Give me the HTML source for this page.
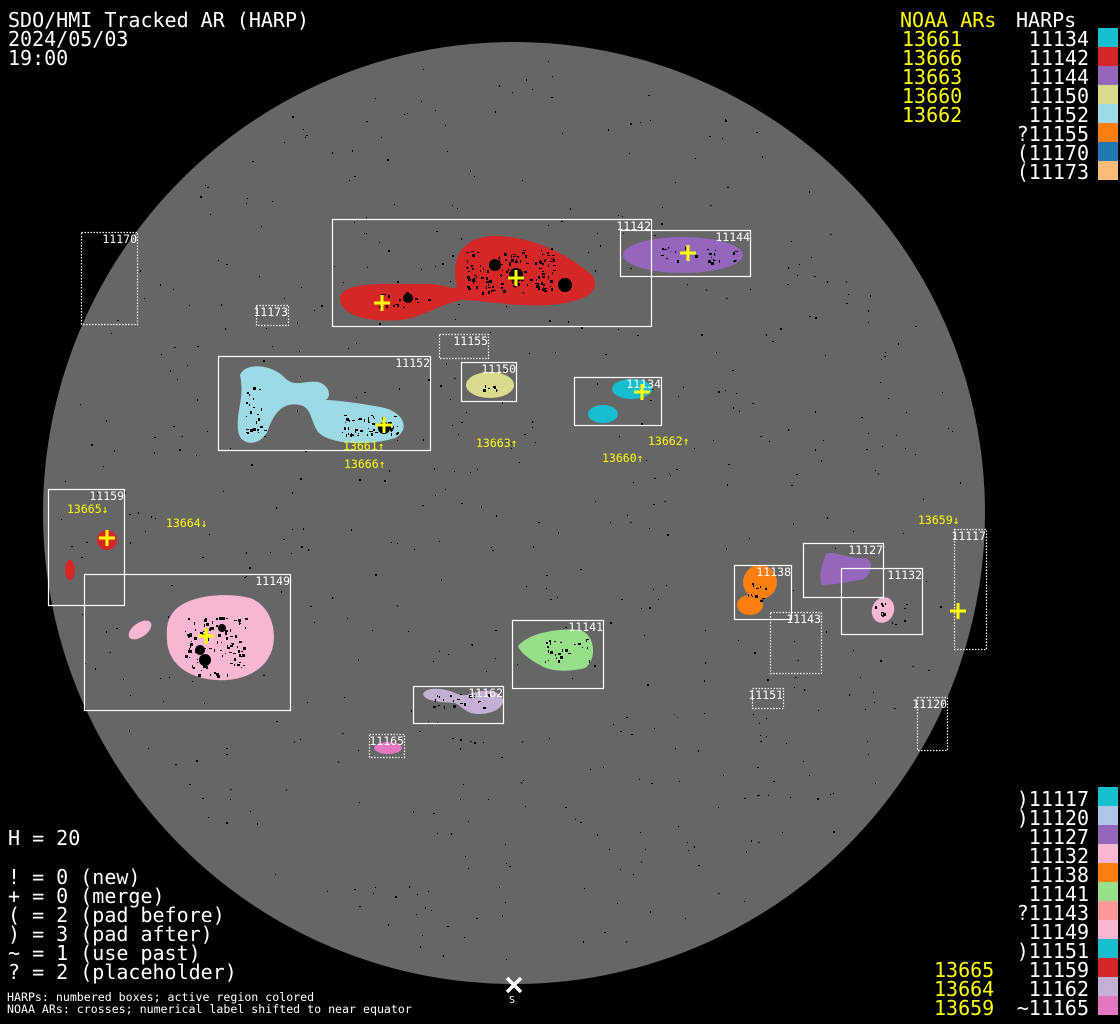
<!DOCTYPE html>
<html><head><meta charset="utf-8"><style>
html,body{margin:0;padding:0;background:#000;}
svg{display:block}
text{font-family:"DejaVu Sans Mono","Liberation Mono",monospace;}
.big{font-size:20px;fill:#fff}
.y{fill:#ffff00}
.sm{font-size:11.5px;fill:#fff}
.ys{font-size:11.5px;fill:#ffff00}
.bx{fill:none;stroke:#fff;stroke-width:1.2}
.dt{fill:none;stroke:#fff;stroke-width:1.2;stroke-dasharray:1.5 1.5}
.cr{stroke:#ffff00;stroke-width:3;fill:none}
</style></head><body>
<svg id="s" width="1120" height="1024" viewBox="0 0 1120 1024" xmlns="http://www.w3.org/2000/svg">
<rect width="1120" height="1024" fill="#000"/>
<circle cx="514" cy="513" r="471" fill="#666"/>
<g id="spk" fill="#000"></g>
<!-- blobs -->
<path d="M340,300 C338,286 365,283 400,284 L432,284 C446,285 452,290 457,287 C450,258 462,238 492,236 C528,235 565,252 592,275 C602,290 588,302 550,305 C512,307 482,300 462,300 C440,304 422,318 400,320 C368,323 342,315 340,300 Z" fill="#d62728"/>
<ellipse cx="683" cy="255" rx="60" ry="18" fill="#9467bd"/>
<path d="M240,375 C245,362 272,364 285,378 C295,388 305,380 318,382 C330,385 332,398 325,400 C335,400 360,403 385,408 C405,414 410,430 395,438 C370,446 330,445 318,432 C310,420 312,408 300,405 C285,402 275,410 268,430 C262,446 240,448 238,430 C236,410 245,398 240,375 Z" fill="#9edae5"/>
<ellipse cx="490" cy="385" rx="24" ry="13" fill="#dbdb8d"/>
<ellipse cx="632" cy="389" rx="20" ry="10" fill="#17becf"/>
<ellipse cx="603" cy="414" rx="15" ry="9" fill="#17becf"/>
<circle cx="107" cy="540" r="10" fill="#d62728"/>
<ellipse cx="70" cy="570" rx="5" ry="10" fill="#d62728"/>
<path d="M175,610 C190,595 225,592 250,598 C270,605 278,630 272,650 C265,672 240,682 215,680 C190,678 168,665 167,640 C166,625 168,618 175,610 Z" fill="#f7b6d2"/>
<ellipse cx="140" cy="630" rx="13" ry="7" transform="rotate(-35 140 630)" fill="#f7b6d2"/>
<circle cx="760" cy="582" r="17" fill="#ff7f0e"/>
<ellipse cx="750" cy="605" rx="13" ry="10" fill="#ff7f0e"/>
<path d="M826,554 C835,550 850,560 865,558 C875,560 872,578 860,580 C845,582 835,585 822,585 C818,575 822,565 826,554 Z" fill="#9467bd"/>
<ellipse cx="883" cy="610" rx="11" ry="13" transform="rotate(20 883 610)" fill="#f7b6d2"/>
<path d="M518,646 C530,632 560,628 580,630 C596,635 597,660 585,668 C570,672 550,672 540,665 C530,660 520,652 518,646 Z" fill="#98df8a"/>
<path d="M423,694 C426,687 440,688 450,691 C458,694 462,697 470,694 C485,688 500,690 503,700 C503,710 490,714 478,714 C466,714 462,706 455,703 C442,702 425,702 423,694 Z" fill="#c5b0d5"/>
<ellipse cx="388" cy="748" rx="14" ry="6" fill="#e377c2"/>
<g id="spk2" fill="#000"></g>
<!-- boxes -->
<rect class="bx" x="332.5" y="219.5" width="319" height="107"/>
<rect class="bx" x="620.5" y="230.5" width="130" height="46"/>
<rect class="bx" x="218.5" y="356.5" width="212" height="94"/>
<rect class="bx" x="461.5" y="362.5" width="55" height="39"/>
<rect class="bx" x="574.5" y="377.5" width="87" height="48"/>
<rect class="bx" x="48.5" y="489.5" width="76" height="116"/>
<rect class="bx" x="84.5" y="574.5" width="206" height="136"/>
<rect class="bx" x="734.5" y="565.5" width="57" height="54"/>
<rect class="bx" x="803.5" y="543.5" width="80" height="54"/>
<rect class="bx" x="841.5" y="568.5" width="81" height="66"/>
<rect class="bx" x="512.5" y="620.5" width="91" height="68"/>
<rect class="bx" x="413.5" y="686.5" width="90" height="37"/>
<rect class="dt" x="81.5" y="232.5" width="56" height="92"/>
<rect class="dt" x="256.5" y="305.5" width="32" height="20"/>
<rect class="dt" x="439.5" y="334.5" width="49" height="24"/>
<rect class="dt" x="770.5" y="612.5" width="51" height="61"/>
<rect class="dt" x="752.5" y="688.5" width="31" height="20"/>
<rect class="dt" x="954.5" y="529.5" width="32" height="120"/>
<rect class="dt" x="917.5" y="697.5" width="30" height="53"/>
<rect class="dt" x="369.5" y="734.5" width="35" height="23"/>
<!-- box labels -->
<g class="sm" text-anchor="end">
<text x="651" y="230">11142</text>
<text x="750" y="241">11144</text>
<text x="430" y="367">11152</text>
<text x="516" y="373">11150</text>
<text x="661" y="388">11134</text>
<text x="124" y="500">11159</text>
<text x="290" y="585">11149</text>
<text x="791" y="576">11138</text>
<text x="883" y="554">11127</text>
<text x="922" y="579">11132</text>
<text x="603" y="631">11141</text>
<text x="503" y="697">11162</text>
<text x="137" y="243">11170</text>
<text x="288" y="316">11173</text>
<text x="488" y="345">11155</text>
<text x="821" y="623">11143</text>
<text x="783" y="699">11151</text>
<text x="986" y="540">11117</text>
<text x="947" y="708">11120</text>
<text x="404" y="745">11165</text>
</g>
<!-- crosses -->
<g class="cr">
<path d="M374,303h16M382,295v16"/>
<path d="M508,278h16M516,270v16"/>
<path d="M680,253h16M688,245v16"/>
<path d="M376,425h16M384,417v16"/>
<path d="M634,392h16M642,384v16"/>
<path d="M99,538h16M107,530v16"/>
<path d="M198,636h16M206,628v16"/>
<path d="M950,611h16M958,603v16"/>
</g>
<g class="ys">
<text x="343" y="450">13661↑</text>
<text x="344" y="468">13666↑</text>
<text x="476" y="447">13663↑</text>
<text x="602" y="462">13660↑</text>
<text x="648" y="445">13662↑</text>
<text x="67" y="513">13665↓</text>
<text x="166" y="527">13664↓</text>
<text x="918" y="524">13659↓</text>
</g>
<!-- S marker -->
<path d="M507,978l14,14M521,978l-14,14" stroke="#fff" stroke-width="3.5"/>
<text x="509" y="1003" class="sm" style="font-size:10px">S</text>
<!-- title -->
<text class="big" x="8" y="27">SDO/HMI Tracked AR (HARP)</text>
<text class="big" x="8" y="46">2024/05/03</text>
<text class="big" x="8" y="65">19:00</text>
<!-- top-right legend -->
<text class="big y" x="900" y="27">NOAA ARs</text>
<text class="big" x="1016" y="27">HARPs</text>
<g class="big y">
<text x="902" y="46">13661</text><text x="902" y="65">13666</text><text x="902" y="84">13663</text><text x="902" y="103">13660</text><text x="902" y="122">13662</text>
</g>
<g class="big" text-anchor="end">
<text x="1089" y="46">11134</text><text x="1089" y="65">11142</text><text x="1089" y="84">11144</text><text x="1089" y="103">11150</text><text x="1089" y="122">11152</text><text x="1089" y="141">?11155</text><text x="1089" y="160">(11170</text><text x="1089" y="179">(11173</text>
</g>
<rect x="1098" y="28" width="20" height="19" fill="#17becf"/>
<rect x="1098" y="47" width="20" height="19" fill="#d62728"/>
<rect x="1098" y="66" width="20" height="19" fill="#9467bd"/>
<rect x="1098" y="85" width="20" height="19" fill="#dbdb8d"/>
<rect x="1098" y="104" width="20" height="19" fill="#9edae5"/>
<rect x="1098" y="123" width="20" height="19" fill="#ff7f0e"/>
<rect x="1098" y="142" width="20" height="19" fill="#1f77b4"/>
<rect x="1098" y="161" width="20" height="19" fill="#ffbb78"/>
<!-- bottom-right legend -->
<g class="big" text-anchor="end">
<text x="1089" y="806">)11117</text><text x="1089" y="825">)11120</text><text x="1089" y="844">11127</text><text x="1089" y="863">11132</text><text x="1089" y="882">11138</text><text x="1089" y="901">11141</text><text x="1089" y="920">?11143</text><text x="1089" y="939">11149</text><text x="1089" y="958">)11151</text><text x="1089" y="977">11159</text><text x="1089" y="996">11162</text><text x="1089" y="1015">~11165</text>
</g>
<g class="big y">
<text x="934" y="977">13665</text><text x="934" y="996">13664</text><text x="934" y="1015">13659</text>
</g>
<rect x="1098" y="787" width="20" height="19" fill="#17becf"/>
<rect x="1098" y="806" width="20" height="19" fill="#aec7e8"/>
<rect x="1098" y="825" width="20" height="19" fill="#9467bd"/>
<rect x="1098" y="844" width="20" height="19" fill="#f7b6d2"/>
<rect x="1098" y="863" width="20" height="19" fill="#ff7f0e"/>
<rect x="1098" y="882" width="20" height="19" fill="#98df8a"/>
<rect x="1098" y="901" width="20" height="19" fill="#ff9896"/>
<rect x="1098" y="920" width="20" height="19" fill="#f7b6d2"/>
<rect x="1098" y="939" width="20" height="19" fill="#17becf"/>
<rect x="1098" y="958" width="20" height="19" fill="#d62728"/>
<rect x="1098" y="977" width="20" height="19" fill="#c5b0d5"/>
<rect x="1098" y="996" width="20" height="19" fill="#e377c2"/>
<!-- bottom-left legend -->
<g class="big">
<text x="8" y="845">H = 20</text>
<text x="8" y="884">! = 0 (new)</text>
<text x="8" y="903">+ = 0 (merge)</text>
<text x="8" y="922">( = 2 (pad before)</text>
<text x="8" y="941">) = 3 (pad after)</text>
<text x="8" y="960">~ = 1 (use past)</text>
<text x="8" y="979">? = 2 (placeholder)</text>
</g>
<text class="sm" x="7" y="1001" style="font-size:11.6px">HARPs: numbered boxes; active region colored</text>
<text class="sm" x="7" y="1013" style="font-size:11.6px">NOAA ARs: crosses; numerical label shifted to near equator</text>
</svg>
<script>
(function(){
var s=12345;function r(){s=(s*1103515245+12345)%2147483648;return s/2147483648;}
var ns="http://www.w3.org/2000/svg",g=document.getElementById("spk"),g2=document.getElementById("spk2");
for(var i=0;i<600;i++){var a=r()*6.283,d=Math.sqrt(r())*455;var x=514+d*Math.cos(a),y=513+d*Math.sin(a);
var e=document.createElementNS(ns,"rect");e.setAttribute("x",x.toFixed(0));e.setAttribute("y",y.toFixed(0));
e.setAttribute("width",r()<0.3?2:1);e.setAttribute("height",r()<0.3?2:1);g.appendChild(e);}
var spots=[[510,270,45,22,130],[400,300,30,8,15],[370,425,30,10,50],[255,410,10,25,25],[215,645,30,30,100],[565,650,25,12,25],[460,700,30,8,20],[700,255,40,8,25],[880,610,6,8,8],[758,590,10,12,12],[490,385,10,6,8]];
spots.forEach(function(p){for(var j=0;j<p[4];j++){var x=p[0]+(r()*2-1)*p[2],y=p[1]+(r()*2-1)*p[3];var e=document.createElementNS(ns,"rect");
e.setAttribute("x",x.toFixed(0));e.setAttribute("y",y.toFixed(0));var w=1+Math.floor(r()*3);e.setAttribute("width",w);e.setAttribute("height",1+Math.floor(r()*3));g2.appendChild(e);}});
[[408,298,5],[495,265,6],[516,275,7],[565,285,7],[384,428,6],[200,650,5],[222,628,4],[205,660,6]].forEach(function(c){var e=document.createElementNS(ns,"circle");e.setAttribute("cx",c[0]);e.setAttribute("cy",c[1]);e.setAttribute("r",c[2]);g2.appendChild(e);});
})();
</script>
</body></html>
